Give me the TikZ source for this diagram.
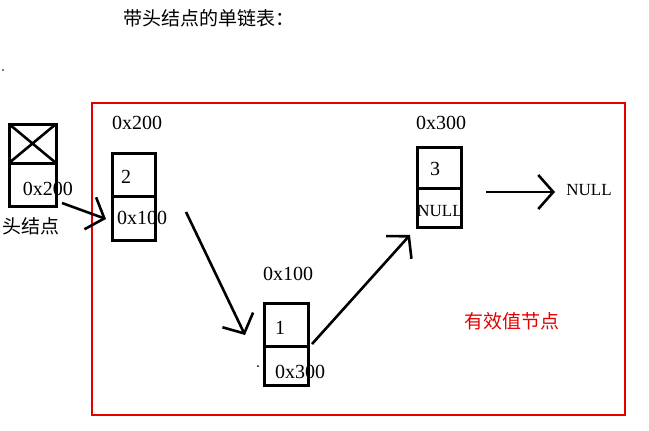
\documentclass[tikz,border=0pt]{standalone}
\usepackage{fontspec}
\setmainfont{Liberation Serif}
\newfontfamily\cjk{Noto Sans CJK SC}
\usetikzlibrary{arrows.meta}
\begin{document}
\begin{tikzpicture}[x=1pt,y=-1pt,
  box/.style={draw,line width=3pt},
  lbl/.style={font=\fontsize{20}{22}\selectfont,inner sep=0pt},
  cn/.style={font=\cjk\fontsize{19}{21}\selectfont,inner sep=0pt},
  arr/.style={line width=2.6pt,-{Straight Barb[length=15pt,width=34pt,line width=2.6pt]}}]
\useasboundingbox (0,0) rectangle (649,431);
\fill[white] (0,0) rectangle (649,431);
\node[cn] (title) at (209,18) {带头结点的单链表：};
\fill (3,70) circle (0.8);
% head node
\draw[box] (9,124) rectangle (56,163);
\draw[line width=2.6pt] (9,124) -- (56,163) (56,124) -- (9,163);
\draw[box] (9,163) rectangle (56,206);
\node[lbl] (h) at (48,189) {0x200};
\node[cn] (htxt) at (31,226) {头结点};
% red frame
\draw[red!90!black,line width=2.6pt] (92,103) rectangle (625,415);
\node[cn,text=red!90!black] (eff) at (512,321) {有效值节点};
% node 1
\node[lbl] (a1) at (137,123) {0x200};
\draw[box] (112,153) rectangle (155,196);
\draw[box] (112,196) rectangle (155,240);
\node[lbl] (v1) at (126,177) {2};
\node[lbl] (p1) at (142,218) {0x100};
% node 2
\node[lbl] (a2) at (288,274) {0x100};
\draw[box] (264,303) rectangle (308,346);
\draw[box] (264,346) rectangle (308,385);
\node[lbl] (v2) at (280,328) {1};
\node[lbl] (p2) at (300,372) {0x300};
\fill (258,366) circle (1);
% node 3
\node[lbl] (a3) at (441,123) {0x300};
\draw[box] (417,147) rectangle (461,188);
\draw[box] (417,188) rectangle (461,227);
\node[lbl] (v3) at (435,169) {3};
\node[lbl,font=\fontsize{17}{19}\selectfont] (p3) at (440,211) {NULL};
\node[lbl,font=\fontsize{17}{19}\selectfont] (nul) at (589,190) {NULL};
% arrows
\coordinate (s0) at (62,203); \coordinate (e0) at (106,219);
\coordinate (s1) at (186,212); \coordinate (e1) at (245,335);
\coordinate (s2) at (312,344); \coordinate (e2) at (410,235);
\coordinate (s3) at (486,192); \coordinate (e3) at (555,192);
\draw[arr] (s0) -- (e0);
\draw[arr] (s1) -- (e1);
\draw[arr] (s2) -- (e2);
\draw[arr] (s3) -- (e3);
\end{tikzpicture}
\end{document}
